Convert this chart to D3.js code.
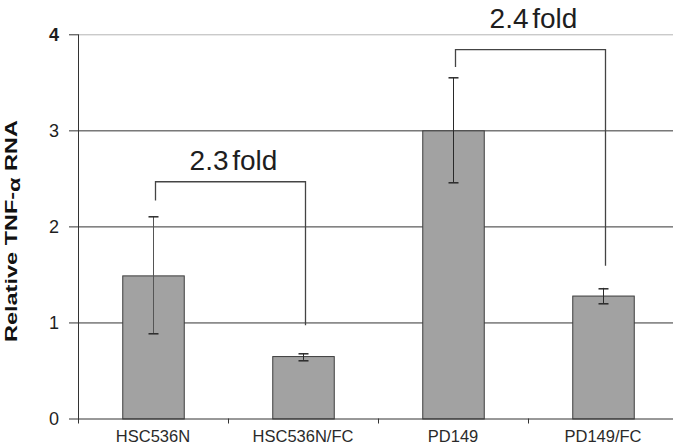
<!DOCTYPE html>
<html>
<head>
<meta charset="utf-8">
<script src="https://cdn.jsdelivr.net/npm/d3@7"></script>
<style>
  body { margin: 0; background: #fff; }
  svg { display: block; font-family: Arial, "Liberation Sans", sans-serif; }
</style>
</head>
<body>
<svg id="chart" width="673" height="448"></svg>
<script>
// data
let categories = ['HSC536N', 'HSC536N/FC', 'PD149', 'PD149/FC'];
let values = [1.49, 0.65, 3.0, 1.28];
let errLow = [0.89, 0.61, 2.46, 1.20];
let errHigh = [2.10, 0.68, 3.55, 1.36];
let yTicks = [0, 1, 2, 3, 4];

// fold-change brackets: from / to category index, bracket heights, label
let bracketFrom = [0, 2];
let bracketTo = [1, 3];
let bracketTop = [2.465, 3.84];
let bracketFromEnd = [2.27, 3.66];
let bracketToEnd = [0.97, 1.59];
let bracketLabels = ['2.3 fold', '2.4 fold'];
let bracketLabelY = [2.59, 4.07];

let margin = {top: 34.3, left: 78, bottom: 29.5};
let width = 600;
let height = 448 - margin.top - margin.bottom;

let svg = d3.select('#chart');
let g = svg.append('g')
  .attr('transform', 'translate(' + margin.left + ',' + margin.top + ')');

let x = d3.scaleBand().domain(categories).range([0, width]).paddingInner(0.59).paddingOuter(0.295);
let xBand = d3.scaleBand().domain(categories).range([0, width]);
let y = d3.scaleLinear().domain([0, 4]).range([height, 0]);

// gridlines
g.selectAll('.grid')
  .data(yTicks.filter((t) => t > 0))
  .enter().append('line')
  .attr('x1', 0)
  .attr('x2', 673 - margin.left)
  .attr('y1', (d) => y(d) + 0.5)
  .attr('y2', (d) => y(d) + 0.5)
  .style('stroke', (d) => d === 4 ? '#b4b4b4' : '#333')
  .style('stroke-width', 1);

// bars
g.selectAll('.bar')
  .data(values)
  .enter().append('rect')
  .attr('x', (d, i) => x(categories[i]) + 0.5)
  .attr('y', (d) => y(d) + 0.5)
  .attr('width', x.bandwidth())
  .attr('height', (d) => height - y(d))
  .style('fill', '#a2a2a2')
  .style('stroke', '#3c3c3c')
  .style('stroke-width', 1);

// error bars
let cx = (i) => Math.round(xBand(categories[i]) + xBand.bandwidth() / 2) + 0.5;
let capW = 5;
values.forEach((v, i) => {
  let c = cx(i);
  g.append('line')
    .attr('x1', c).attr('x2', c)
    .attr('y1', y(errLow[i])).attr('y2', y(errHigh[i]))
    .style('stroke', i === 0 ? '#555' : '#2a2a2a').style('stroke-width', 1);
  [errLow[i], errHigh[i]].forEach((e) => {
    g.append('line')
      .attr('x1', c - capW).attr('x2', c + capW)
      .attr('y1', Math.round(y(e)) + 0.5).attr('y2', Math.round(y(e)) + 0.5)
      .style('stroke', '#2a2a2a').style('stroke-width', 1.5);
  });
});

// brackets
bracketLabels.forEach((label, k) => {
  let x1 = cx(bracketFrom[k]) + 2;
  let x2 = cx(bracketTo[k]) + 2;
  let path = d3.path();
  path.moveTo(x1, y(bracketFromEnd[k]));
  path.lineTo(x1, y(bracketTop[k]));
  path.lineTo(x2, y(bracketTop[k]));
  path.lineTo(x2, y(bracketToEnd[k]));
  g.append('path')
    .attr('d', path.toString())
    .style('fill', 'none')
    .style('stroke', '#444')
    .style('stroke-width', 1.3);

  g.append('text')
    .attr('x', (x1 + x2) / 2 + 3)
    .attr('y', y(bracketLabelY[k]))
    .attr('text-anchor', 'middle')
    .style('font-size', '28px')
    .style('word-spacing', '-4px')
    .style('fill', '#1e1e1e')
    .text(label);
});

// x axis
let xAxis = g.append('g')
  .attr('transform', 'translate(0,' + height + ')')
  .call(d3.axisBottom(xBand).tickSize(0).tickPadding(12));
xAxis.select('.domain').style('stroke', '#333');
xAxis.selectAll('text')
  .style('font-size', '16.5px')
  .style('fill', '#2a2a2a')
  .style('font-family', 'Arial, "Liberation Sans", sans-serif');

// category boundary ticks
g.selectAll('.xtick')
  .data(categories.slice(1))
  .enter().append('line')
  .attr('x1', (d) => Math.round(xBand(d)) + 0.5)
  .attr('x2', (d) => Math.round(xBand(d)) + 0.5)
  .attr('y1', height)
  .attr('y2', height + 5)
  .style('stroke', '#333');

// y axis
let yAxis = g.append('g')
  .call(d3.axisLeft(y).tickValues(yTicks).tickFormat(d3.format('d')).tickSize(9).tickPadding(10));
yAxis.select('.domain').style('stroke', '#333').attr('d', 'M0.5,' + (height + 5) + 'V0');
yAxis.selectAll('.tick line').style('stroke', '#333');
yAxis.selectAll('text')
  .style('font-size', '18px')
  .style('fill', '#1e1e1e')
  .style('font-weight', (d) => d === 4 ? 'bold' : 'normal')
  .style('font-family', 'Arial, "Liberation Sans", sans-serif');

// y axis title
let title = svg.append('text')
  .attr('transform', 'translate(17,' + 231 + ') rotate(-90)')
  .attr('text-anchor', 'middle')
  .attr('textLength', 222)
  .attr('lengthAdjust', 'spacingAndGlyphs')
  .style('font-size', '17px')
  .style('font-weight', 'bold')
  .style('fill', '#111');
title.append('tspan').text('Relative TNF-');
title.append('tspan').attr('dy', 3).text('α');
title.append('tspan').attr('dy', -3).text(' RNA');
</script>
</body>
</html>
